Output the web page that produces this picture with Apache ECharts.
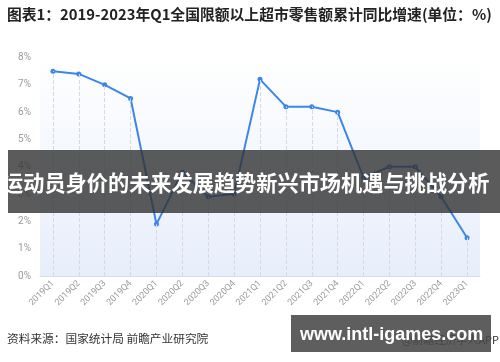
<!DOCTYPE html>
<html>
<head>
<meta charset="utf-8">
<script src="https://cdn.jsdelivr.net/npm/echarts@6/dist/echarts.min.js"></script>
<style>
html,body{margin:0;padding:0;background:#fff;}
#chart{width:500px;height:362px;}
</style>
</head>
<body>
<div id="chart"></div>
<script>
var categories = ['2019Q1','2019Q2','2019Q3','2019Q4','2020Q1','2020Q2','2020Q3','2020Q4','2021Q1','2021Q2','2021Q3','2021Q4','2022Q1','2022Q2','2022Q3','2022Q4','2023Q1'];
var growth = [7.5,7.4,7.0,6.5,1.9,3.8,2.9,3.0,7.2,6.2,6.2,6.0,3.6,4.0,4.0,2.9,1.4];
var yTicks = {min:0, max:8, interval:1};
var titleText = '图表1：2019-2023年Q1全国限额以上超市零售额累计同比增速(单位：%)';
var sourceText = '资料来源：国家统计局 前瞻产业研究院';
var appText = '@前瞻经济学人APP';
var bannerText = '运动员身价的未来发展趋势新兴市场机遇与挑战分析';
var siteText = 'www.intl-igames.com';

var chart = echarts.init(document.getElementById('chart'), null, {renderer:'canvas'});
var dropLines = growth.map(function(v,i){ return [{coord:[i,0]},{coord:[i,v]}]; });

chart.setOption({
  animation:false,
  backgroundColor:'#ffffff',
  grid:{left:40,right:20,top:57.5,bottom:86,show:true,borderWidth:0,
    backgroundColor:new echarts.graphic.LinearGradient(0,0,0,1,[
      {offset:0,color:'rgba(255,255,255,1)'},
      {offset:1,color:'#e7eefb'}])},
  xAxis:{type:'category',data:categories,boundaryGap:true,
    axisLine:{lineStyle:{color:'#d8dde5',width:1}},
    axisTick:{show:false},
    axisLabel:{rotate:45,fontSize:9,color:'#9a9a9a',margin:6,interval:0,fontFamily:'Roboto, sans-serif'},
    splitLine:{show:false}},
  yAxis:{type:'value',min:yTicks.min,max:yTicks.max,interval:yTicks.interval,
    axisLine:{show:false},axisTick:{show:false},splitLine:{show:false},
    axisLabel:{formatter:'{value}%',fontSize:10,color:'#9a9a9a',margin:9,fontFamily:'Roboto, sans-serif'}},
  series:[{
    type:'line',data:growth,
    symbol:'circle',symbolSize:5,
    lineStyle:{color:'#3b86ea',width:2},
    itemStyle:{color:'#3b86ea'},
    markLine:{silent:true,symbol:['none','none'],label:{show:false},
      lineStyle:{type:'dashed',color:'#d6d9de',width:1},
      data:dropLines},
    z:3
  }],
  graphic:[
    {type:'text',left:7,top:7,style:{text:titleText,font:'bold 14.8px "Noto Sans CJK SC", sans-serif',fill:'#222'}},
    {type:'text',left:7,top:333,style:{text:sourceText,font:'11.7px "Noto Sans CJK SC", sans-serif',fill:'#333'}},
    {type:'text',right:1,top:334,style:{text:appText,font:'11px "Noto Sans CJK SC", sans-serif',fill:'#333'}},
    {type:'rect',shape:{x:8,y:150,width:492,height:63},style:{fill:'rgba(50,50,50,0.8)'},z:100},
    {type:'text',x:2,y:183,style:{text:bannerText,font:'bold 21.2px "Noto Sans CJK SC", sans-serif',fill:'#ffffff',verticalAlign:'middle',textAlign:'left'},z:101},
    {type:'rect',shape:{x:291,y:315,width:200,height:37},style:{fill:'rgba(72,72,72,0.88)'},z:100},
    {type:'text',x:300,y:335,style:{text:siteText,font:'bold 18px "Liberation Sans", Arial, sans-serif',fill:'#ffffff',verticalAlign:'middle',textAlign:'left'},z:101}
  ]
});
</script>
</body>
</html>
